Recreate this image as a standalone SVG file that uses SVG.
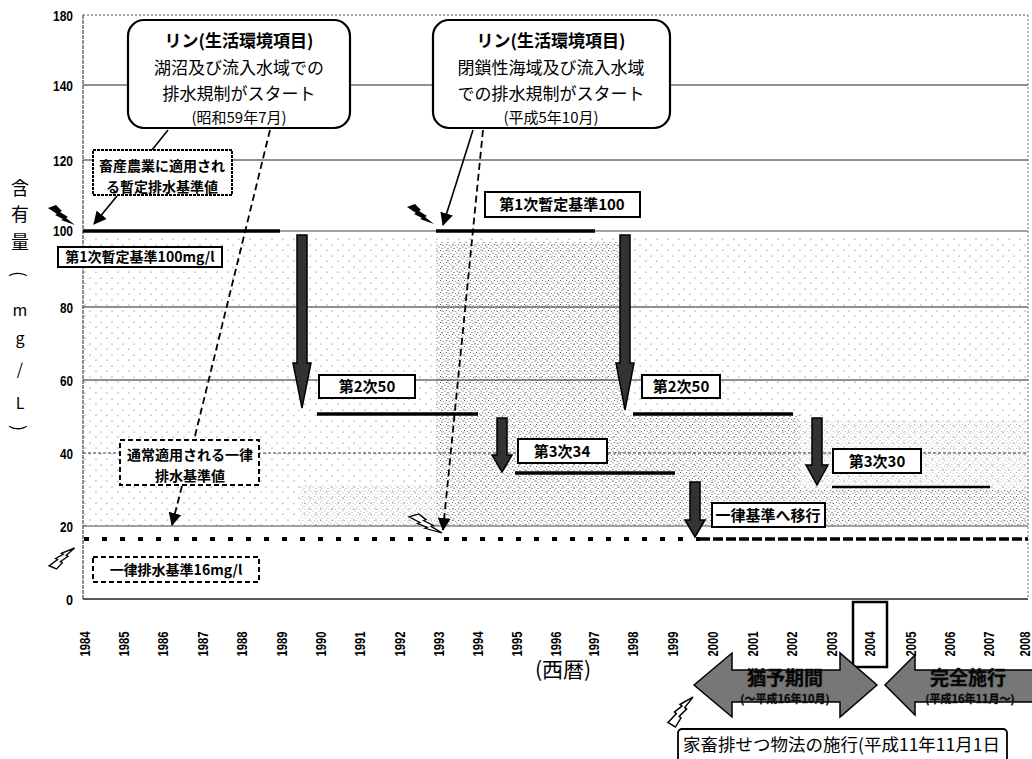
<svg xmlns="http://www.w3.org/2000/svg" width="1032" height="759" viewBox="0 0 1032 759">
<style>
.t{font-family:"Noto Sans CJK JP","Noto Sans",sans-serif;fill:#000}
.b{font-weight:bold}
.yr{font-family:"Liberation Sans",Arial,sans-serif;font-weight:bold;font-size:14px}
.ax{font-family:"Liberation Sans",Arial,sans-serif;font-weight:bold;font-size:15px}
.grid{stroke:#222;stroke-width:1;fill:none}
.lbl{fill:#fff;stroke:#000;stroke-width:2}
.dbox{fill:#fff;stroke:#000;stroke-width:2;stroke-dasharray:5 3}
.call{fill:#fff;stroke:#000;stroke-width:2.2}
.thick{stroke:#000;stroke-width:3.5}
.con{stroke:#000;stroke-width:1.6;fill:none}
.dash{stroke:#000;stroke-width:1.8;fill:none;stroke-dasharray:7 4}
.bigarr{fill:#333;stroke:#000;stroke-width:1.5}
.band{fill:#777;stroke:#000;stroke-width:1.5}
</style>
<defs>
<pattern id="sparse" width="11" height="11" patternUnits="userSpaceOnUse">
<circle cx="2" cy="3" r="0.6" fill="#555"/><circle cx="8" cy="8" r="0.6" fill="#555"/>
</pattern>
<pattern id="dense" width="6" height="6" patternUnits="userSpaceOnUse">
<circle cx="1" cy="1" r="0.6" fill="#444"/><circle cx="4" cy="2.5" r="0.6" fill="#444"/><circle cx="2.5" cy="4.5" r="0.6" fill="#444"/><circle cx="5.2" cy="5.2" r="0.5" fill="#444"/>
</pattern>
<pattern id="grain" width="4" height="4" patternUnits="userSpaceOnUse">
<rect width="4" height="4" fill="#6a6a6a"/><circle cx="1" cy="1" r="0.7" fill="#ccc"/><circle cx="3" cy="3" r="0.7" fill="#222"/>
</pattern>
<path id="bolt" d="M0,3 L8,0 L14,6 L12,7 L20,12 L18,13 L27,20 L13,15 L15,14 L7,10 L9,9 Z"/>
<marker id="ahb" markerWidth="13" markerHeight="13" refX="12" refY="6.5" orient="auto" markerUnits="userSpaceOnUse" viewBox="0 0 13 13">
<path d="M0,0 L13,6.5 L0,13 Z" fill="#000"/>
</marker>
</defs>
<rect width="1032" height="759" fill="#fff"/>

<g id="stipple">
<rect x="84" y="236" width="944" height="290" fill="url(#sparse)"/>
<polygon points="436,242 625,242 625,415 800,415 800,490 1028,490 1028,526 436,526" fill="url(#dense)"/>
<rect x="300" y="485" width="136" height="41" fill="url(#dense)" opacity="0.5"/>
<rect x="800" y="420" width="228" height="70" fill="url(#dense)" opacity="0.45"/>
</g>

<g id="axes">
<line x1="83" y1="15" x2="1028" y2="15" stroke="#555" stroke-width="1" stroke-dasharray="2 2"/>
<line class="grid" x1="83" y1="85" x2="1028" y2="85"/>
<line class="grid" x1="83" y1="160" x2="1028" y2="160"/>
<line x1="83" y1="231" x2="1028" y2="231" stroke="#444" stroke-width="1.2"/>
<line class="grid" x1="83" y1="307" x2="1028" y2="307"/>
<line class="grid" x1="83" y1="380" x2="1028" y2="380"/>
<line x1="83" y1="453" x2="1028" y2="453" stroke="#333" stroke-width="1" stroke-dasharray="3 2"/>
<line x1="83" y1="526" x2="1028" y2="526" stroke="#444" stroke-width="1"/>
<line x1="83" y1="599" x2="1028" y2="599" stroke="#222" stroke-width="1.4"/>
<line x1="83" y1="15" x2="83" y2="599" stroke="#444" stroke-width="1.2" stroke-dasharray="4 1"/>
<line x1="1028" y1="15" x2="1028" y2="599" stroke="#666" stroke-width="1" stroke-dasharray="2 2"/>
<g class="ax" text-anchor="end">
<text x="73" y="21" textLength="20" lengthAdjust="spacingAndGlyphs">180</text>
<text x="73" y="91" textLength="20" lengthAdjust="spacingAndGlyphs">140</text>
<text x="73" y="166" textLength="20" lengthAdjust="spacingAndGlyphs">120</text>
<text x="73" y="236" textLength="20" lengthAdjust="spacingAndGlyphs">100</text>
<text x="73" y="313" textLength="13" lengthAdjust="spacingAndGlyphs">80</text>
<text x="73" y="386" textLength="13" lengthAdjust="spacingAndGlyphs">60</text>
<text x="73" y="459" textLength="13" lengthAdjust="spacingAndGlyphs">40</text>
<text x="73" y="532" textLength="13" lengthAdjust="spacingAndGlyphs">20</text>
<text x="73" y="605" textLength="7" lengthAdjust="spacingAndGlyphs">0</text>
</g>
<g class="t" font-size="18" text-anchor="middle">
<text x="20" y="195">含</text>
<text x="20" y="221">有</text>
<text x="20" y="249">量</text>
<text x="20" y="274" transform="rotate(90 20 274)" dominant-baseline="central">(</text>
<text x="20" y="316" font-size="16">m</text>
<text x="20" y="344" font-size="16">g</text>
<text x="20" y="375" font-size="16">/</text>
<text x="20" y="409" font-size="16">L</text>
<text x="20" y="428" transform="rotate(90 20 428)" dominant-baseline="central">)</text>
</g>
<g class="yr" text-anchor="middle" dominant-baseline="central">
<text transform="translate(85,644) rotate(-90)" textLength="25" lengthAdjust="spacingAndGlyphs">1984</text>
<text transform="translate(124,644) rotate(-90)" textLength="25" lengthAdjust="spacingAndGlyphs">1985</text>
<text transform="translate(163,644) rotate(-90)" textLength="25" lengthAdjust="spacingAndGlyphs">1986</text>
<text transform="translate(203,644) rotate(-90)" textLength="25" lengthAdjust="spacingAndGlyphs">1987</text>
<text transform="translate(242,644) rotate(-90)" textLength="25" lengthAdjust="spacingAndGlyphs">1988</text>
<text transform="translate(282,644) rotate(-90)" textLength="25" lengthAdjust="spacingAndGlyphs">1989</text>
<text transform="translate(321,644) rotate(-90)" textLength="25" lengthAdjust="spacingAndGlyphs">1990</text>
<text transform="translate(360,644) rotate(-90)" textLength="25" lengthAdjust="spacingAndGlyphs">1991</text>
<text transform="translate(400,644) rotate(-90)" textLength="25" lengthAdjust="spacingAndGlyphs">1992</text>
<text transform="translate(439,644) rotate(-90)" textLength="25" lengthAdjust="spacingAndGlyphs">1993</text>
<text transform="translate(478,644) rotate(-90)" textLength="25" lengthAdjust="spacingAndGlyphs">1994</text>
<text transform="translate(517,644) rotate(-90)" textLength="25" lengthAdjust="spacingAndGlyphs">1995</text>
<text transform="translate(556,644) rotate(-90)" textLength="25" lengthAdjust="spacingAndGlyphs">1996</text>
<text transform="translate(594,644) rotate(-90)" textLength="25" lengthAdjust="spacingAndGlyphs">1997</text>
<text transform="translate(633,644) rotate(-90)" textLength="25" lengthAdjust="spacingAndGlyphs">1998</text>
<text transform="translate(673,644) rotate(-90)" textLength="25" lengthAdjust="spacingAndGlyphs">1999</text>
<text transform="translate(713,644) rotate(-90)" textLength="25" lengthAdjust="spacingAndGlyphs">2000</text>
<text transform="translate(753,644) rotate(-90)" textLength="25" lengthAdjust="spacingAndGlyphs">2001</text>
<text transform="translate(792,644) rotate(-90)" textLength="25" lengthAdjust="spacingAndGlyphs">2002</text>
<text transform="translate(832,644) rotate(-90)" textLength="25" lengthAdjust="spacingAndGlyphs">2003</text>
<text transform="translate(870,644) rotate(-90)" textLength="25" lengthAdjust="spacingAndGlyphs">2004</text>
<text transform="translate(911,644) rotate(-90)" textLength="25" lengthAdjust="spacingAndGlyphs">2005</text>
<text transform="translate(950,644) rotate(-90)" textLength="25" lengthAdjust="spacingAndGlyphs">2006</text>
<text transform="translate(989,644) rotate(-90)" textLength="25" lengthAdjust="spacingAndGlyphs">2007</text>
<text transform="translate(1025,644) rotate(-90)" textLength="25" lengthAdjust="spacingAndGlyphs">2008</text>
</g>
<rect x="853" y="602" width="34" height="65" fill="none" stroke="#000" stroke-width="2.5"/>
<text class="t" x="563" y="677" font-size="21" text-anchor="middle">(西暦)</text>
</g>

<g id="levels">
<line class="thick" x1="83" y1="231" x2="280" y2="231"/>
<line class="thick" x1="436" y1="231" x2="595" y2="231"/>
<line class="thick" x1="317" y1="414" x2="478" y2="414"/>
<line class="thick" x1="633" y1="414" x2="793" y2="414"/>
<line class="thick" x1="515" y1="473" x2="675" y2="473"/>
<line x1="832" y1="487" x2="990" y2="487" stroke="#000" stroke-width="2.5"/>
<line x1="84" y1="539" x2="700" y2="539" stroke="#000" stroke-width="4" stroke-dasharray="5 13"/>
<line x1="700" y1="539" x2="1028" y2="539" stroke="#000" stroke-width="3.5" stroke-dasharray="10 3"/>
</g>

<g id="bolts">
<use href="#bolt" transform="translate(48,205)" fill="#000"/>
<use href="#bolt" transform="translate(407,204)" fill="#000"/>
<use href="#bolt" transform="translate(49,569) scale(0.95,-1.05)" fill="#fff" stroke="#000" stroke-width="1.3"/>
<use href="#bolt" transform="translate(409,514) scale(1.22,0.95)" fill="#fff" stroke="#000" stroke-width="1.3"/>
<use href="#bolt" transform="translate(668,727) scale(0.93,-1.5)" fill="#fff" stroke="#000" stroke-width="1.2"/>
</g>

<g id="drops">
<path class="bigarr" d="M297,235 H307 V363 H311 L302,408 L293,363 H297 Z"/>
<path class="bigarr" d="M620,235 H630 V363 H634 L625,410 L616,363 H620 Z"/>
<path class="bigarr" d="M497,418 H507 V455 H512 L502,472 L492,455 H497 Z"/>
<path class="bigarr" d="M812,418 H822 V465 H828 L817,485 L806,465 H812 Z"/>
<path class="bigarr" d="M690,482 H700 V520 H705 L695,537 L685,520 H690 Z"/>
</g>

<g id="connectors">
<line class="con" x1="168" y1="130" x2="152" y2="150"/>
<line class="con" x1="117" y1="196" x2="94" y2="224" marker-end="url(#ahb)"/>
<line class="dash" x1="270" y1="130" x2="194" y2="440"/>
<line class="dash" x1="182" y1="486" x2="172" y2="525" marker-end="url(#ahb)"/>
<line class="con" x1="473" y1="130" x2="443" y2="225" marker-end="url(#ahb)"/>
<line class="dash" x1="483" y1="130" x2="443" y2="530" marker-end="url(#ahb)"/>
</g>

<g id="callout1">
<rect class="call" x="128" y="20" width="222" height="108" rx="16"/>
<g class="t" font-size="17" text-anchor="middle">
<text x="239" y="47" class="b">リン(生活環境項目)</text>
<text x="239" y="74">湖沼及び流入水域での</text>
<text x="239" y="100">排水規制がスタート</text>
<text x="239" y="123" font-size="15">(昭和59年7月)</text>
</g>
</g>

<g id="callout2">
<rect class="call" x="433" y="20" width="237" height="108" rx="16"/>
<g class="t" font-size="17" text-anchor="middle">
<text x="551" y="47" class="b">リン(生活環境項目)</text>
<text x="551" y="74">閉鎖性海域及び流入水域</text>
<text x="551" y="100">での排水規制がスタート</text>
<text x="551" y="123" font-size="15">(平成5年10月)</text>
</g>
</g>

<g id="livestock">
<rect class="lbl" x="93" y="150" width="139" height="45" stroke-dasharray="3 1"/>
<text class="t b" x="162" y="171" font-size="14" text-anchor="middle">畜産農業に適用され</text>
<text class="t b" x="162" y="192" font-size="14" text-anchor="middle">る暫定排水基準値</text>
</g>

<g id="std1a">
<rect class="lbl" x="58" y="247" width="164" height="20"/>
<text class="t b" x="140" y="262" font-size="14" text-anchor="middle">第1次暫定基準100mg/l</text>
</g>

<g id="std1b">
<rect class="lbl" x="485" y="192" width="155" height="25"/>
<text class="t b" x="562" y="210" font-size="15" text-anchor="middle">第1次暫定基準100</text>
</g>

<g id="std2a">
<rect class="lbl" x="319" y="375" width="96" height="23"/>
<text class="t b" x="367" y="392" font-size="15" text-anchor="middle">第2次50</text>
</g>

<g id="std2b">
<rect class="lbl" x="642" y="375" width="78" height="23"/>
<text class="t b" x="681" y="392" font-size="15" text-anchor="middle">第2次50</text>
</g>

<g id="std3a">
<rect class="lbl" x="518" y="439" width="89" height="24"/>
<text class="t b" x="562" y="457" font-size="15" text-anchor="middle">第3次34</text>
</g>

<g id="std3b">
<rect class="lbl" x="833" y="449" width="88" height="24"/>
<text class="t b" x="877" y="467" font-size="15" text-anchor="middle">第3次30</text>
</g>

<g id="uniform-shift">
<rect class="lbl" x="712" y="503" width="113" height="24"/>
<text class="t b" x="768" y="521" font-size="15" text-anchor="middle">一律基準へ移行</text>
</g>

<g id="usual">
<rect class="dbox" x="120" y="440" width="139" height="45"/>
<text class="t b" x="190" y="460" font-size="14" text-anchor="middle">通常適用される一律</text>
<text class="t b" x="190" y="481" font-size="14" text-anchor="middle">排水基準値</text>
</g>

<g id="uniform16">
<rect class="dbox" x="93" y="557" width="166" height="25"/>
<text class="t b" x="176" y="575" font-size="14" text-anchor="middle">一律排水基準16mg/l</text>
</g>

<g id="grace">
<path class="band" d="M694,685 L732,653 V670 H840 V653 L877,685 L840,717 V702 H732 V717 Z" fill="url(#grain)"/>
<text class="t b" x="785" y="685" font-size="19" text-anchor="middle" fill="#fff" stroke="#222" stroke-width="0.6">猶予期間</text>
<text class="t b" x="785" y="703" font-size="11" text-anchor="middle" fill="#fff" stroke="#222" stroke-width="0.4">(～平成16年10月)</text>
</g>

<g id="full">
<path class="band" d="M885,685 L915,655 V670 H1034 V702 H915 V715 Z" fill="url(#grain)"/>
<text class="t b" x="968" y="685" font-size="19" text-anchor="middle" fill="#fff" stroke="#222" stroke-width="0.6">完全施行</text>
<text class="t b" x="970" y="703" font-size="11" text-anchor="middle" fill="#fff" stroke="#222" stroke-width="0.4">(平成16年11月～)</text>
</g>

<g id="law">
<rect x="678" y="729" width="329" height="36" rx="4" fill="#fff" stroke="#000" stroke-width="1.8"/>
<text class="t" x="683" y="751" font-size="17.5">家畜排せつ物法の施行(平成11年11月1日</text>
</g>
</svg>
